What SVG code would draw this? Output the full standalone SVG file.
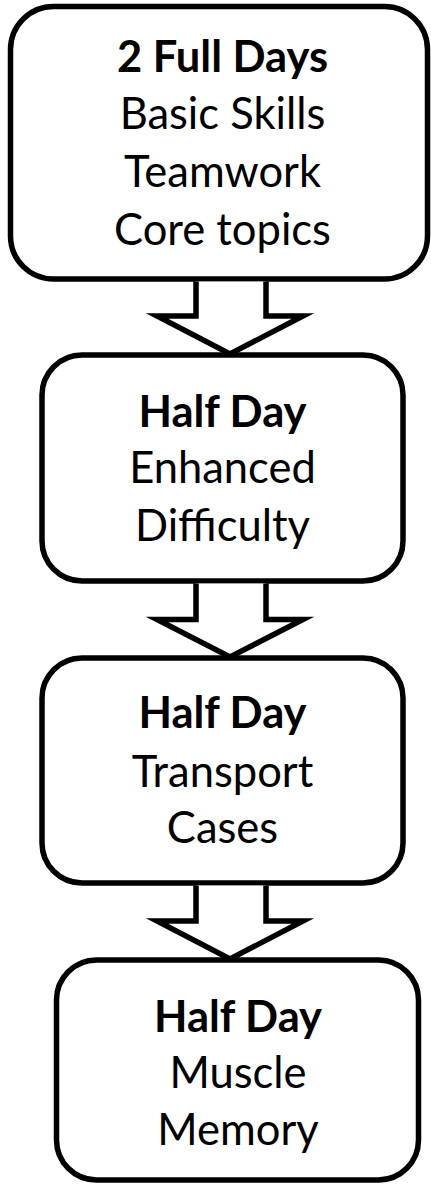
<svg xmlns="http://www.w3.org/2000/svg" width="431" height="1187" viewBox="0 0 431 1187">
<style>
.box{fill:#fff;stroke:#000;stroke-width:5.5}
.arr{fill:#fff;stroke:#000;stroke-width:5.5;stroke-linejoin:miter;stroke-miterlimit:10}
text{font-family:Lato,"Liberation Sans",sans-serif;font-size:43.5px;text-anchor:middle;fill:#000}
.b{font-weight:bold}
</style>
<rect width="431" height="1187" fill="#fff"/>
<g id="n1">
<rect class="box" x="10.5" y="6.5" width="417" height="272.5" rx="43"/>
<text class="b" x="222.5" y="72">2 Full Days</text>
<text x="222.5" y="129">Basic Skills</text>
<text x="222.5" y="187">Teamwork</text>
<text x="222.5" y="245">Core topics</text>
</g>
<g id="n2">
<rect class="box" x="42" y="355" width="361" height="226" rx="40"/>
<text class="b" x="222.5" y="427">Half Day</text>
<text x="222.5" y="483">Enhanced</text>
<text x="222.5" y="541">Difficulty</text>
</g>
<g id="n3">
<rect class="box" x="42" y="658" width="361" height="225" rx="40"/>
<text class="b" x="222.5" y="728">Half Day</text>
<text x="222.5" y="787">Transport</text>
<text x="222.5" y="843">Cases</text>
</g>
<g id="n4">
<rect class="box" x="56.5" y="960" width="362" height="220" rx="40"/>
<text class="b" x="238" y="1032">Half Day</text>
<text x="238" y="1088">Muscle</text>
<text x="238" y="1145">Memory</text>
</g>
<g id="connectors">
<path class="arr" d="M196,281.5 V316 H157 L230,354 L303,316 H266 V281.5"/>
<path class="arr" d="M196,583.5 V619.5 H157 L230,657 L303,619.5 H266 V583.5"/>
<path class="arr" d="M196,885.5 V921 H157 L230,959 L303,921 H266 V885.5"/>
</g>
</svg>
